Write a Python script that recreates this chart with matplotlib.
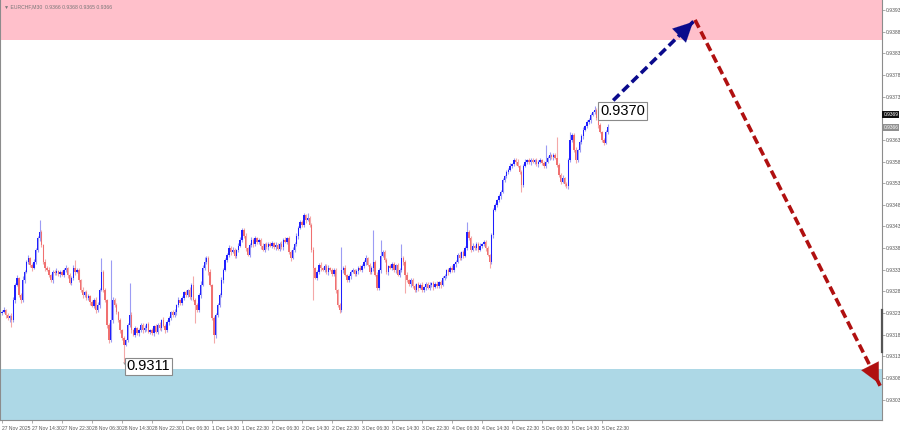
import numpy as np
import matplotlib
matplotlib.use("Agg")
import matplotlib.pyplot as plt

# ---------------- data ----------------
symbol_title = "\u25bc EURCHF,M30  0.9366 0.9368 0.9365 0.9366"

first_open = 0.93230
closes = [
    0.93232, 0.93237, 0.93225, 0.93218, 0.93223, 0.93214, 0.93260, 0.93295, 0.93311, 0.93271, 0.93260, 0.93306, 0.93325, 0.93348, 0.93357, 0.93341,
    0.93334, 0.93348, 0.93376, 0.93403, 0.93417, 0.93387, 0.93348, 0.93334, 0.93329, 0.93318, 0.93306, 0.93325, 0.93322, 0.93327, 0.93320, 0.93325,
    0.93318, 0.93329, 0.93334, 0.93318, 0.93299, 0.93311, 0.93334, 0.93325, 0.93329, 0.93306, 0.93283, 0.93271, 0.93278, 0.93265, 0.93269, 0.93255,
    0.93246, 0.93260, 0.93237, 0.93248, 0.93283, 0.93325, 0.93283, 0.93260, 0.93202, 0.93167, 0.93214, 0.93260, 0.93248, 0.93232, 0.93214, 0.93190,
    0.93172, 0.93156, 0.93167, 0.93202, 0.93225, 0.93190, 0.93179, 0.93195, 0.93184, 0.93190, 0.93202, 0.93190, 0.93195, 0.93205, 0.93186, 0.93190,
    0.93184, 0.93200, 0.93186, 0.93202, 0.93195, 0.93214, 0.93200, 0.93190, 0.93209, 0.93218, 0.93232, 0.93225, 0.93232, 0.93248, 0.93260, 0.93253,
    0.93265, 0.93278, 0.93271, 0.93283, 0.93267, 0.93295, 0.93260, 0.93248, 0.93237, 0.93271, 0.93295, 0.93334, 0.93348, 0.93357, 0.93325, 0.93295,
    0.93218, 0.93179, 0.93225, 0.93248, 0.93271, 0.93306, 0.93329, 0.93352, 0.93364, 0.93380, 0.93371, 0.93376, 0.93362, 0.93376, 0.93385, 0.93399,
    0.93422, 0.93408, 0.93380, 0.93364, 0.93387, 0.93399, 0.93389, 0.93403, 0.93394, 0.93399, 0.93385, 0.93376, 0.93389, 0.93382, 0.93389, 0.93385,
    0.93392, 0.93382, 0.93387, 0.93378, 0.93389, 0.93382, 0.93399, 0.93394, 0.93403, 0.93371, 0.93357, 0.93376, 0.93389, 0.93408, 0.93426, 0.93440,
    0.93433, 0.93456, 0.93445, 0.93449, 0.93433, 0.93376, 0.93334, 0.93311, 0.93325, 0.93341, 0.93334, 0.93329, 0.93339, 0.93325, 0.93334, 0.93329,
    0.93320, 0.93329, 0.93283, 0.93248, 0.93237, 0.93329, 0.93334, 0.93318, 0.93306, 0.93315, 0.93325, 0.93329, 0.93320, 0.93327, 0.93334, 0.93329,
    0.93339, 0.93348, 0.93357, 0.93341, 0.93325, 0.93334, 0.93348, 0.93318, 0.93288, 0.93329, 0.93362, 0.93371, 0.93352, 0.93325, 0.93339, 0.93334,
    0.93343, 0.93329, 0.93341, 0.93318, 0.93329, 0.93357, 0.93348, 0.93318, 0.93306, 0.93297, 0.93306, 0.93292, 0.93283, 0.93297, 0.93288, 0.93295,
    0.93283, 0.93290, 0.93297, 0.93288, 0.93295, 0.93299, 0.93290, 0.93297, 0.93292, 0.93302, 0.93295, 0.93311, 0.93315, 0.93329, 0.93325, 0.93334,
    0.93329, 0.93343, 0.93348, 0.93364, 0.93357, 0.93371, 0.93362, 0.93380, 0.93417, 0.93403, 0.93376, 0.93385, 0.93380, 0.93389, 0.93376, 0.93385,
    0.93389, 0.93394, 0.93380, 0.93364, 0.93348, 0.93410, 0.93468, 0.93479, 0.93491, 0.93500, 0.93510, 0.93537, 0.93546, 0.93556, 0.93560, 0.93570,
    0.93574, 0.93583, 0.93579, 0.93570, 0.93556, 0.93526, 0.93570, 0.93579, 0.93583, 0.93579, 0.93583, 0.93579, 0.93583, 0.93574, 0.93579, 0.93583,
    0.93576, 0.93570, 0.93579, 0.93588, 0.93595, 0.93590, 0.93595, 0.93588, 0.93572, 0.93549, 0.93533, 0.93542, 0.93528, 0.93523, 0.93583, 0.93630,
    0.93641, 0.93607, 0.93583, 0.93607, 0.93625, 0.93639, 0.93653, 0.93662, 0.93671, 0.93676, 0.93687, 0.93694, 0.93699, 0.93680, 0.93664, 0.93648,
    0.93630, 0.93623, 0.93648, 0.93660,
]

# wick lengths above / below the body, in points (1e-5)
wick_up_pts = [
    4, 6, 3, 5, 2, 6, 8, 5, 7, 3, 6, 9, 4, 5, 8, 3,
    5, 7, 4, 6, 28, 5, 3, 6, 4, 7, 3, 5, 4, 6, 3, 5,
    4, 6, 7, 3, 5, 4, 8, 19, 5, 6, 3, 7, 4, 5, 6, 3,
    5, 4, 6, 7, 5, 32, 4, 6, 3, 5, 138, 7, 4, 6, 3, 5,
    4, 6, 3, 5, 74, 7, 4, 5, 3, 6, 4, 5, 7, 3, 5, 4,
    6, 3, 5, 4, 7, 3, 6, 5, 4, 6, 3, 5, 7, 4, 6, 3,
    5, 4, 6, 3, 7, 5, 20, 4, 6, 5, 8, 6, 12, 5, 4, 6,
    3, 5, 4, 6, 5, 7, 4, 6, 5, 8, 4, 6, 5, 3, 7, 6,
    5, 4, 6, 3, 5, 7, 4, 6, 3, 5, 4, 6, 3, 5, 4, 6,
    5, 3, 6, 4, 5, 7, 4, 6, 3, 5, 4, 6, 5, 7, 4, 6,
    5, 6, 3, 11, 5, 4, 6, 3, 5, 4, 6, 3, 5, 4, 6, 3,
    5, 4, 6, 3, 5, 54, 4, 6, 3, 5, 4, 6, 3, 5, 4, 6,
    5, 4, 6, 3, 5, 4, 74, 5, 6, 4, 37, 5, 4, 6, 3, 5,
    4, 6, 3, 5, 4, 32, 5, 4, 6, 3, 5, 4, 6, 3, 5, 4,
    6, 3, 5, 4, 6, 3, 5, 4, 6, 3, 5, 4, 6, 3, 5, 4,
    6, 3, 5, 4, 6, 3, 5, 4, 23, 5, 4, 6, 3, 5, 4, 6,
    3, 5, 4, 6, 3, 5, 4, 6, 3, 5, 4, 6, 3, 5, 4, 6,
    3, 5, 4, 6, 3, 5, 4, 6, 3, 5, 4, 6, 3, 5, 4, 6,
    3, 5, 40, 4, 6, 3, 5, 4, 49, 5, 4, 6, 3, 5, 4, 18,
    5, 4, 6, 3, 5, 4, 6, 3, 5, 4, 6, 3, 9, 5, 4, 6,
    3, 5, 4, 6,
]
wick_dn_pts = [
    5, 3, 6, 4, 8, 16, 4, 6, 3, 5, 7, 4, 6, 3, 5, 4,
    6, 3, 5, 4, 7, 5, 4, 6, 3, 5, 4, 6, 3, 5, 4, 6,
    3, 5, 4, 6, 3, 5, 4, 6, 3, 5, 4, 6, 3, 5, 4, 6,
    3, 5, 8, 4, 6, 3, 5, 4, 6, 6, 4, 6, 3, 5, 4, 6,
    5, 41, 3, 5, 4, 6, 3, 5, 4, 6, 3, 5, 4, 6, 3, 5,
    4, 6, 3, 5, 4, 6, 3, 5, 4, 6, 3, 5, 4, 6, 3, 5,
    4, 6, 3, 5, 4, 6, 3, 40, 5, 4, 6, 3, 5, 4, 6, 3,
    5, 18, 6, 3, 5, 4, 6, 3, 5, 4, 6, 3, 5, 4, 6, 3,
    5, 4, 6, 3, 5, 4, 6, 3, 5, 4, 6, 3, 5, 4, 6, 3,
    5, 4, 6, 3, 5, 4, 6, 3, 5, 4, 6, 3, 5, 4, 6, 3,
    5, 4, 6, 3, 5, 4, 74, 3, 5, 4, 6, 3, 5, 4, 6, 3,
    5, 4, 6, 3, 7, 4, 6, 3, 5, 4, 6, 3, 5, 4, 6, 3,
    5, 4, 6, 3, 5, 4, 6, 3, 5, 4, 6, 3, 5, 4, 6, 3,
    5, 4, 6, 3, 5, 4, 6, 42, 5, 4, 6, 3, 5, 4, 6, 3,
    5, 4, 6, 3, 5, 4, 6, 3, 5, 4, 6, 3, 5, 4, 6, 3,
    5, 4, 6, 3, 5, 4, 6, 3, 5, 4, 6, 3, 5, 4, 6, 3,
    5, 4, 6, 3, 14, 4, 6, 3, 5, 4, 6, 3, 5, 4, 6, 3,
    5, 4, 6, 3, 5, 16, 4, 3, 5, 4, 6, 3, 5, 4, 6, 3,
    5, 4, 6, 3, 5, 4, 6, 3, 5, 4, 6, 3, 5, 4, 6, 3,
    5, 4, 6, 3, 5, 4, 6, 3, 5, 4, 6, 3, 5, 4, 6, 3,
    4, 5, 3, 4,
]

x_tick_labels = [
    "27 Nov 2025", "27 Nov 14:30", "27 Nov 22:30", "28 Nov 06:30", "28 Nov 14:30",
    "28 Nov 22:30", "1 Dec 06:30", "1 Dec 14:30", "1 Dec 22:30", "2 Dec 06:30",
    "2 Dec 14:30", "2 Dec 22:30", "3 Dec 06:30", "3 Dec 14:30", "3 Dec 22:30",
    "4 Dec 06:30", "4 Dec 14:30", "4 Dec 22:30", "5 Dec 06:30", "5 Dec 14:30",
    "5 Dec 22:30",
]
bars_per_label = 16

y_tick_values = [0.9393, 0.9388, 0.9383, 0.9378, 0.9373, 0.9363, 0.9358, 0.9353,
                 0.9348, 0.9343, 0.9338, 0.9333, 0.9328, 0.9323, 0.9318, 0.9313,
                 0.9308, 0.9303]

sell_zone = (0.93861, 0.94100)   # pink resistance zone
buy_zone = (0.92900, 0.93101)    # blue support zone

high_label = (319, 0.93697, "0.9370")
low_label = (66.3, 0.93107, "0.9311")
low_point = (65, 0.93115)

up_arrow = [(321, 0.93700), (369.6, 0.93907)]
down_arrow = [(369.6, 0.93907), (468.3, 0.93062)]

bid_price = 0.93688
bid_text = "0.9369"
last_price = 0.93658
last_text = "0.9366"

# ---------------- figure ----------------
W, H = 900, 432
FONT = "Liberation Sans"
fig = plt.figure(figsize=(W / 100, H / 100), dpi=100)
fig.patch.set_facecolor("white")
ax = fig.add_axes([0.0, 12 / H, 882 / W, 420 / H])
ax.set_facecolor("white")

n = len(closes)
assert len(wick_up_pts) == n and len(wick_dn_pts) == n
closes_a = np.array(closes)
opens_a = np.concatenate([[first_open], closes_a[:-1]])
top = np.maximum(opens_a, closes_a)
bot = np.minimum(opens_a, closes_a)
highs = top + np.array(wick_up_pts) * 1e-5
lows = bot - np.array(wick_dn_pts) * 1e-5
x = np.arange(n)
up = closes_a >= opens_a

up_col, dn_col = "#1f1fff", "#f07070"
up_wick, dn_wick = "#9c9cf4", "#f4a8a8"

ax.vlines(x[up], lows[up], highs[up], color=up_wick, lw=0.8, zorder=2)
ax.vlines(x[~up], lows[~up], highs[~up], color=dn_wick, lw=0.8, zorder=2)
body_h = np.maximum(top - bot, 0.000025)
ax.bar(x[up], body_h[up], bottom=bot[up], width=0.72, color=up_col, lw=0, zorder=3)
ax.bar(x[~up], body_h[~up], bottom=bot[~up], width=0.72, color=dn_col, lw=0, zorder=3)

# zones
ax.axhspan(sell_zone[0], sell_zone[1], color="#ffc0cb", zorder=0, lw=0)
ax.axhspan(buy_zone[0], buy_zone[1], color="#add8e6", zorder=0, lw=0)

ylo, yhi = 0.92983, 0.93953
ax.set_ylim(ylo, yhi)
ax.set_xlim(-1.07, 469.3)

# arrows
def dashed_arrow(p0, p1, color, head_len):
    (x0, y0), (x1, y1) = p0, p1
    ax.plot([x0, x1], [y0, y1], color=color, lw=2.6, ls=(0, (2.4, 1.2)),
            solid_capstyle="butt", dash_capstyle="butt", zorder=5)
    ax.annotate("", xy=(x1, y1), xytext=(x1 - (x1 - x0) * head_len, y1 - (y1 - y0) * head_len),
                arrowprops=dict(arrowstyle="-|>,head_length=1.0,head_width=0.5",
                                color=color, lw=0.1, mutation_scale=14),
                zorder=6)

dashed_arrow(up_arrow[0], up_arrow[1], "#0a0a8c", 0.15)
dashed_arrow(down_arrow[0], down_arrow[1], "#b01010", 0.07)

# price labels
box = dict(boxstyle="square,pad=0.12", fc="white", ec="#8a8a8a", lw=0.8)
ax.text(high_label[0], high_label[1], high_label[2], fontsize=10.5, family=FONT,
        ha="left", va="center", bbox=box, zorder=7)
ax.text(low_label[0], low_label[1], low_label[2], fontsize=10.5, family=FONT,
        ha="left", va="center", bbox=box, zorder=7)
ax.plot([low_point[0], low_label[0]], [low_point[1], low_label[1]], color="#8a8a8a", lw=0.6, zorder=6)

# axes styling
ax.spines["top"].set_visible(False)
for s in ["left", "right", "bottom"]:
    ax.spines[s].set_color("#8c8c8c")
    ax.spines[s].set_linewidth(0.8)

ax.yaxis.tick_right()
ax.set_yticks(y_tick_values)
ax.set_yticklabels([f"{v:.4f}" for v in y_tick_values], family=FONT)
ax.tick_params(axis="y", which="both", right=True, left=False, length=2, width=0.5,
               colors="#8c8c8c", labelcolor="#555555", labelsize=3.6, pad=1)

xt = np.arange(len(x_tick_labels)) * bars_per_label
ax.set_xticks(xt)
ax.set_xticklabels(x_tick_labels, ha="left", family=FONT)
ax.tick_params(axis="x", length=2.5, width=0.5, colors="#8c8c8c", labelcolor="#555555",
               labelsize=3.6, pad=1.5)

# bid / last price tags on the right scale
def price_tag(price, text, fc):
    ax.annotate(text, xy=(1.0, (price - ylo) / (yhi - ylo)), xycoords="axes fraction",
                xytext=(1.0, 0), textcoords="offset points", fontsize=3.5, color="white",
                family=FONT, ha="left", va="center", annotation_clip=False,
                bbox=dict(boxstyle="square,pad=0.2", fc=fc, ec="none"), zorder=8)

price_tag(bid_price, bid_text, "#111111")
price_tag(last_price, last_text, "#8f8f8f")

# scroll marker on the right scale
ax.plot([1.0, 1.0], [(0.93237 - ylo) / (yhi - ylo), (0.93140 - ylo) / (yhi - ylo)],
        transform=ax.transAxes, color="#555555", lw=1.6, clip_on=False, zorder=9)

fig.text(4 / W, 1 - 7 / H, symbol_title, fontsize=3.7, color="#777777", va="center", ha="left",
         family=[FONT, "DejaVu Sans"])

fig.savefig("out.png", dpi=100, facecolor="white")
